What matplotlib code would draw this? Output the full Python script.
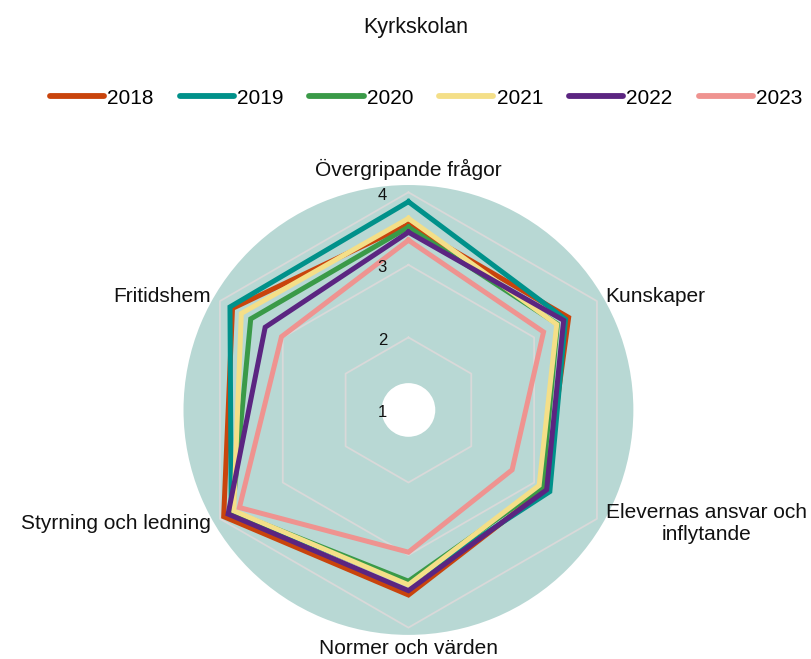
import numpy as np
import matplotlib.pyplot as plt
from matplotlib.lines import Line2D

plt.rcParams['font.family'] = ['Liberation Sans', 'DejaVu Sans']

# Categories (clockwise from top) and yearly values
categories = ["Övergripande frågor", "Kunskaper", "Elevernas ansvar och\ninflytande",
              "Normer och värden", "Styrning och ledning", "Fritidshem"]
years = ["2018", "2019", "2020", "2021", "2022", "2023"]

v2018 = [3.56, 3.55, 3.18, 3.55, 3.94, 3.80]
v2019 = [3.87, 3.50, 3.25, 3.39, 3.82, 3.84]
v2020 = [3.52, 3.37, 3.13, 3.36, 3.80, 3.51]
v2021 = [3.64, 3.36, 3.08, 3.41, 3.78, 3.66]
v2022 = [3.45, 3.47, 3.20, 3.49, 3.87, 3.28]
v2023 = [3.34, 3.15, 2.65, 2.96, 3.69, 3.02]
series = [v2018, v2019, v2020, v2021, v2022, v2023]

colors = ['#c9440c', '#00918a', '#3a9a48', '#f4df88', '#5b2581', '#ef9390']
grid_levels = [2, 3, 4]
tick_levels = [1, 2, 3, 4]

fig = plt.figure(figsize=(8.12, 6.59), dpi=100)
ax = fig.add_axes([0.226, 0.0364, 0.554, 0.683], projection='polar')
ax.set_theta_offset(np.pi / 2)
ax.set_theta_direction(-1)
ax.set_ylim(1, 4.1)
ax.set_facecolor('#b8d8d4')
ax.spines['polar'].set_visible(False)
ax.grid(False)
ax.set_xticks([])
ax.set_yticks([])

angles = np.linspace(0, 2 * np.pi, len(categories), endpoint=False)
closed = np.append(angles, angles[0])

# white hole in the middle
ax.bar(0, 0.37, width=2 * np.pi, bottom=1, color='white', zorder=1, linewidth=0)

# hexagon grid
for lv in grid_levels:
    ax.plot(closed, [lv] * len(closed), color='#d9d9d9', lw=1.3, zorder=2)

for vals, c in zip(series, colors):
    ax.plot(closed, vals + [vals[0]], color=c, lw=3.6, solid_joinstyle='miter', zorder=3)

# radial tick labels
for lv in tick_levels:
    ax.annotate(str(lv), xy=(0, lv), xytext=(-26, -3), textcoords='offset pixels',
                ha='center', va='center', fontsize=12, color='#111111', zorder=5)

# category labels
label_pos = [(4.31, 'center'), (4.14, 'left'), (4.14, 'left'),
             (4.29, 'center'), (4.14, 'right'), (4.14, 'right')]
for ang, cat, (r, ha) in zip(angles, categories, label_pos):
    ax.text(ang, r, cat, ha=ha, va='center', multialignment='center',
            fontsize=15, color='#111111', clip_on=False)

fig.text(416 / 812, 1 - 28 / 659, 'Kyrkskolan', ha='center', va='center',
         fontsize=15.5, color='#111111')

handles = [Line2D([0], [0], color=c, lw=4.2, solid_capstyle='round') for c in colors]
fig.legend(handles, years, loc='center', bbox_to_anchor=(426 / 812, 1 - 98 / 659),
           ncol=6, frameon=False, fontsize=15, handlelength=2.6, handletextpad=0.15,
           columnspacing=1.25)

plt.savefig("out.png", dpi=100)
